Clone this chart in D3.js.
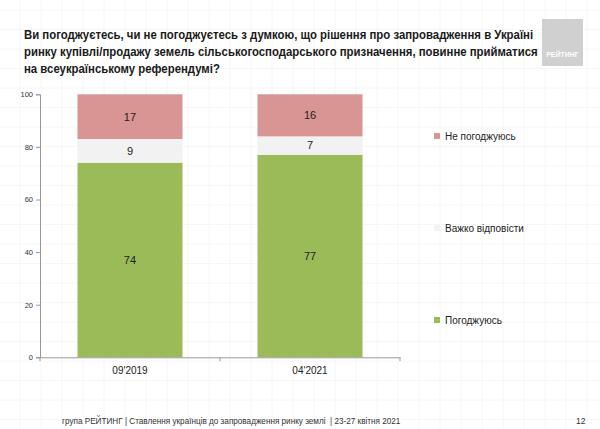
<!DOCTYPE html>
<html><head><meta charset="utf-8">
<script src="https://cdn.jsdelivr.net/npm/d3@7"></script>
<style>body{margin:0;background:#fff}svg{display:block}</style>
</head><body>
<svg id="c" width="600" height="429"></svg>
<script>
const categories = ["09'2019", "04'2021"];
const seriesNames = ["Погоджуюсь", "Важко відповісти", "Не погоджуюсь"];
const agree = [74, 77];
const hard = [9, 7];
const disagree = [17, 16];
const yTicks = [0, 20, 40, 60, 80, 100];
const titleLines = [
  "Ви погоджуєтесь, чи не погоджуєтесь з думкою, що рішення про запровадження в Україні",
  "ринку купівлі/продажу земель сільськогосподарського призначення, повинне прийматися",
  "на всеукраїнському референдумі?"
];
const footerText = "група РЕЙТИНГ | Ставлення українців до запровадження ринку землі  | 23-27 квітня 2021";
const pageNum = "12";

const colors = {"Погоджуюсь":"#9bbb59","Важко відповісти":"#f2f2f2","Не погоджуюсь":"#d99594"};
const svg = d3.select("#c");
const font = "'Liberation Sans', Arial, sans-serif";

// faint background grid
const bg = svg.append("g");
for (let x = 20; x < 600; x += 21) bg.append("line").attr("x1",x).attr("x2",x).attr("y1",0).attr("y2",429).attr("stroke","#f6f6f6");
for (let y = 10; y < 429; y += 19.5) bg.append("line").attr("y1",y).attr("y2",y).attr("x1",0).attr("x2",600).attr("stroke","#f6f6f6");

// title (horizontally condensed to match reference width)
const tg = svg.append("g");
const tt = tg.append("text").attr("font-family",font).attr("font-weight","bold").attr("font-size",12.5).attr("fill","#1a1a1a");
titleLines.forEach((l,i)=>tt.append("tspan").attr("x",0).attr("y",39+i*17).text(l));
const w1 = tt.select("tspan").node().getComputedTextLength();
const sx = 510 / w1;
tg.attr("transform",`translate(24,0) scale(${sx},1)`);

// logo
svg.append("rect").attr("x",542).attr("y",19).attr("width",41).attr("height",47).attr("fill","#d0d0d0");
svg.append("text").attr("x",562.5).attr("y",57).attr("text-anchor","middle").attr("font-family",font).attr("font-weight","bold").attr("font-size",7).attr("fill","#fff").text("РЕЙТИНГ");

const x = d3.scaleBand().domain(categories).range([40,400]).paddingInner(0.4167).paddingOuter(0.2083);
const y = d3.scaleLinear().domain([0,100]).range([357.3,94.3]);

const rows = categories.map((c,i)=>({cat:c,"Погоджуюсь":agree[i],"Важко відповісти":hard[i],"Не погоджуюсь":disagree[i]}));
const stack = d3.stack().keys(seriesNames)(rows);

const g = svg.append("g");
stack.forEach(s=>{
  g.selectAll(null).data(s).enter().append("rect")
    .attr("x",d=>x(d.data.cat)).attr("width",x.bandwidth())
    .attr("y",d=>y(d[1])).attr("height",d=>y(d[0])-y(d[1]))
    .attr("fill",colors[s.key]);
  g.selectAll(null).data(s).enter().append("text")
    .attr("x",d=>x(d.data.cat)+x.bandwidth()/2).attr("y",d=>(y(d[0])+y(d[1]))/2)
    .attr("dy","0.35em").attr("text-anchor","middle")
    .attr("font-family",font).attr("font-size",11).attr("fill","#222")
    .text(d=>d[1]-d[0]);
});

// y axis
const ya = svg.append("g").attr("transform","translate(40,0)")
  .call(d3.axisLeft(y).tickValues(yTicks).tickSize(4).tickPadding(3));
ya.select(".domain").attr("stroke","#999");
ya.selectAll(".tick line").attr("stroke","#999");
ya.selectAll(".tick text").attr("font-family",font).attr("font-size",7.5).attr("fill","#333");

// x axis
const xa = svg.append("g").attr("transform",`translate(0,${y(0)})`)
  .call(d3.axisBottom(x).tickSize(0).tickSizeOuter(0).tickPadding(10));
xa.select(".domain").attr("stroke","#999");
xa.selectAll(".tick text").attr("font-family",font).attr("font-size",10).attr("fill","#222");
const bounds = [40, x(categories[1]) - x.step()*x.paddingInner()/2, 400];
svg.append("g").selectAll("line").data(bounds).enter().append("line")
  .attr("x1",d=>d).attr("x2",d=>d).attr("y1",y(0)).attr("y2",y(0)+4).attr("stroke","#999");

// legend
const legY = {"Не погоджуюсь":136,"Важко відповісти":228,"Погоджуюсь":320};
const lg = svg.append("g");
seriesNames.forEach(n=>{
  lg.append("rect").attr("x",434).attr("y",legY[n]-3).attr("width",6).attr("height",6).attr("fill",colors[n]);
  lg.append("text").attr("x",445).attr("y",legY[n]).attr("dy","0.35em").attr("font-family",font).attr("font-size",10).attr("fill","#222").text(n);
});

// footer
const ft = svg.append("g").attr("transform","translate(62,0) scale(0.96,1)");
ft.append("text").attr("x",0).attr("y",421).attr("dy","0.35em").style("white-space","pre").attr("font-family",font).attr("font-size",8.5).attr("fill","#333").text(footerText);
svg.append("text").attr("x",576).attr("y",421).attr("dy","0.35em").attr("font-family",font).attr("font-size",8.5).attr("fill","#333").text(pageNum);
</script>
</body></html>
